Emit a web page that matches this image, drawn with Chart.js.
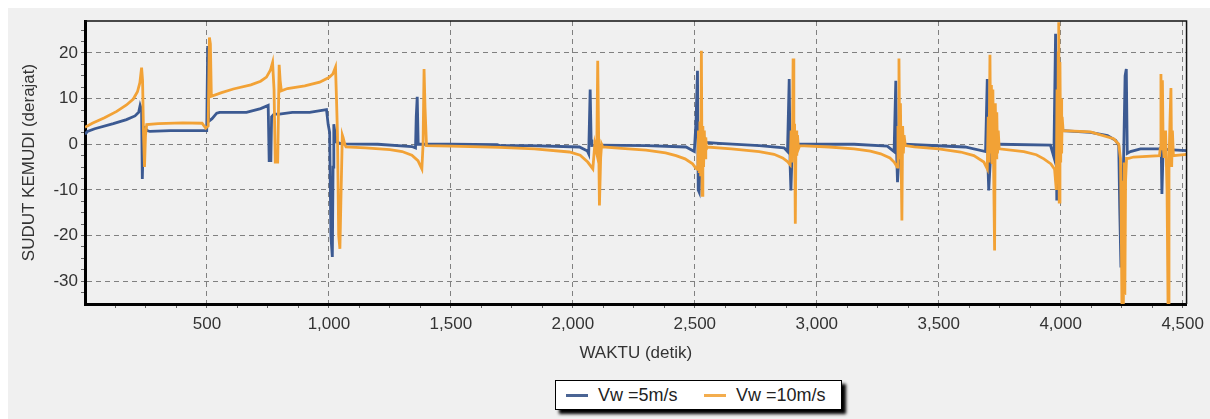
<!DOCTYPE html>
<html>
<head>
<meta charset="utf-8">
<title>Sudut kemudi</title>
<script src="https://cdn.jsdelivr.net/npm/chart.js@4.4.1/dist/chart.umd.min.js"></script>
<style>
  html, body { margin: 0; padding: 0; background: #fff; width: 1210px; height: 419px; overflow: hidden; }
  .painel { position: absolute; left: 8px; top: 8px; width: 1202px; height: 411px; background: #f0f0f0; }
  .area-grafico { position: absolute; left: 0; top: 0; width: 1210px; height: 370px; }
  #legenda {
    position: absolute; left: 555px; top: 380px; width: 285px; height: 28px;
    background: #fff; border: 1px solid #000; box-shadow: 4px 4px 3px #000;
    font: 18px "Liberation Sans", Arial, sans-serif; color: #222;
  }
  #legenda .linha { position: absolute; top: 13px; width: 22px; height: 3px; }
  #legenda .texto { position: absolute; top: 3px; line-height: 22px; white-space: nowrap; }
</style>
</head>
<body>
<div class="painel"></div>
<div class="area-grafico"><canvas id="grafico" width="1210" height="370"></canvas></div>
<div id="legenda">
  <span class="linha" style="left: 10px; background: #4a6494;"></span>
  <span class="texto" style="left: 42px;">Vw =5m/s</span>
  <span class="linha" style="left: 148px; background: #f3ad4e;"></span>
  <span class="texto" style="left: 180px;">Vw =10m/s</span>
</div>
<script>
// Vw = 5 m/s
const waktuVw5 = [0, 10, 40, 116, 170, 205, 220, 226, 232, 235, 240, 245, 255, 266, 350, 450, 499, 503, 507, 521, 540, 552, 662, 720, 751,
  755, 762, 765, 775, 797, 850, 921, 990, 997, 1003, 1008, 1014, 1017, 1020, 1030, 1052, 1200, 1340, 1355, 1358, 1362, 1366, 1372,
  1500, 1690, 1700, 1822, 2027, 2060, 2065, 2068, 2071, 2075, 2078, 2105, 2300, 2464, 2498, 2505, 2511, 2514, 2518, 2525, 2545,
  2600, 2764, 2866, 2880, 2887, 2891, 2894, 2900, 2921, 3153, 3289, 3317, 3324, 3328, 3331, 3340, 3357, 3608, 3692, 3699, 3702,
  3705, 3715, 3746, 3958, 3972, 3979, 3984, 3990, 4006, 4122, 4192, 4226, 4238, 4242, 4247, 4252, 4258, 4264, 4269, 4273, 4286,
  4327, 4409, 4412, 4415, 4420, 4440, 4516];
const sudutVw5 = [2.2, 2.8, 3.4, 4.5, 5.4, 6.2, 7.0, 8.5, 7.5, -7.6, 3.5, 3.7, 3.0, 2.8, 3.0, 3.0, 3.0, 21.5, 5.0, 5.6, 6.8, 7.0, 7.0, 7.8, 8.5,
  -3.6, -3.6, 6.0, 6.6, 6.6, 7.0, 7.0, 7.6, 4.3, 2.6, -20, -24.7, -5, 4.4, 0.5, 0.1, 0.0, -0.5, -0.8, 6, 10.4, 0, 0,
  0.0, -0.1, -0.3, -0.3, -0.6, -1.5, -2.1, 5, 12.0, 1, -0.3, -0.2, -0.3, -0.6, -1.6, 5, 16.1, -10, -10.5, 2, 0.4,
  0.2, -0.3, -0.8, -1.6, 14.3, -5, -10.1, 0, 0, 0, -0.4, -1.6, 13.9, -3, -8.3, 0, 0, -0.6, -1.6, 14.3, -5,
  -10.1, 0, 0, -0.2, -2.8, 24.2, -12.3, 3, 3.0, 2.6, 1.9, 0.8, -0.3, -14, -27, -15, -3, 15, 16.5, -2, -1.6,
  -1.0, -1.0, -0.5, -10.9, -1, -1.2, -1.4];

// Vw = 10 m/s
const waktuVw10 = [0, 30, 80, 130, 170, 198, 215, 225, 232, 236, 240, 244, 248, 253, 300, 400, 480, 495, 505, 510, 514, 518, 560,
  608, 680, 720, 744, 760, 769, 775, 780, 790, 796, 800, 805, 830, 901, 962, 1000, 1016, 1027, 1031, 1035, 1040, 1045, 1050, 1055,
  1058, 1065, 1070, 1150, 1250, 1300, 1340, 1365, 1381, 1386, 1390, 1394, 1400, 1500, 1700, 1842, 1986, 2030, 2061, 2082,
  2090, 2098, 2102, 2105, 2109, 2114, 2118, 2123, 2200, 2300, 2380, 2423, 2460, 2491, 2505,
  2512, 2515, 2518, 2521, 2524, 2527, 2530, 2533, 2536, 2539, 2542, 2545, 2548, 2552,
  2650, 2764, 2825, 2860, 2880, 2891, 2895, 2898, 2901, 2903, 2906, 2909, 2912, 2915, 2918, 2921, 2925, 2930,
  3050, 3153, 3220, 3262, 3300, 3317, 3330, 3333, 3335, 3337, 3340, 3343, 3346, 3349, 3352, 3355, 3358, 3363,
  3400, 3500, 3590, 3644, 3685, 3699, 3703, 3706, 3710, 3713, 3716, 3719, 3722, 3725, 3729, 3732, 3735, 3738, 3741, 3744, 3748,
  3849, 3900, 3931, 3960, 3975, 3982, 3985, 3988, 3990, 3992, 3994, 3997, 4000, 4002, 4004, 4006, 4010,
  4122, 4217, 4238, 4245, 4248, 4251, 4254, 4257, 4260, 4263, 4266, 4270, 4279, 4299,
  4405, 4408, 4411, 4414, 4417, 4420, 4424, 4430, 4436, 4440, 4444, 4448, 4452, 4455, 4458, 4462, 4516];
const sudutVw10 = [3.7, 4.6, 5.8, 7.2, 8.6, 9.9, 11.5, 13.5, 16.8, 14, 2, -5, 2, 4.3, 4.5, 4.7, 4.6, 3.5, 4, 23.4, 22, 10.5, 11.3,
  12.1, 13.0, 13.8, 14.7, 16.2, 17.9, 12, -3.9, -3.9, 17.4, 14, 11.7, 12.2, 12.8, 13.6, 14.6, 15.4, 16.9, 10, 2.3, -20, -22.9, -10, 2,
  1.5, 0, -0.6, -0.8, -1.2, -1.6, -2.4, -3.6, -5.4, 0, 16.5, 8, -0.3, -0.4, -0.7, -1.0, -1.7, -2.4, -3.9, -5.4,
  0, -2, 18.3, 5, -13.4, -3, 0, -0.6, -0.9, -1.3, -1.9, -2.5, -3.2, -4.3, -5.3,
  -5.5, 3, -6, 5, -7, 20.5, -11.2, 4, -5, 3, -3, 1.5, -1, -0.6,
  -1.0, -1.6, -2.2, -3.0, -3.8, -4.5, 3, -4, 5, 18.8, -2, 4.5, -17.4, 3, -2.5, 2, -1, -0.3,
  -0.6, -1.0, -1.5, -2.1, -3.0, -3.9, -5, 4, -3, 18.8, -1, 9, -4, -16.7, 4, -2, 2, -0.3,
  -0.6, -1.0, -1.7, -2.5, -3.9, -5.4, 6, -4, 19.6, -2, 13, -4, 12, -5, -23.3, 9, -3, 7, -2, 3, -1,
  -1.6, -2.3, -3.2, -4.3, -5.5, -10, 12, -6, 20, 26.7, -12.7, 18, -4, 10, -2, 6, 3.0,
  2.7, 1.2, 0, -3.1, -15, -35, -8, -35, -4, -33, -8, -3.1, -3.1, -2.8,
  -2.5, -1, 15.4, 2, 14, 0, -3, 3, -10, -34.8, -4, 5, 12.3, -5, 3, -2.5, -2.2];

// Eixos
const rotulosX = [500, 1000, 1500, 2000, 2500, 3000, 3500, 4000, 4500];
const rotulosY = [-30, -20, -10, 0, 10, 20];

const corAzul = '#3c5a92';
const corLaranja = '#f2a236';
const corGrade = '#808080';
const fonte = { family: '"Liberation Sans", Arial, sans-serif', size: 17 };

function pares(xs, ys) {
  return xs.map((x, i) => ({ x: x, y: ys[i] }));
}

function marcas(de, ate, passo) {
  const lista = [];
  for (let v = de; v <= ate + 1e-9; v += passo) lista.push({ value: Math.round(v * 100) / 100 });
  return lista;
}

// Bordas finas em cima e à direita
const bordaFina = {
  id: 'bordaFina',
  afterDatasetsDraw(chart) {
    const { ctx, chartArea: a } = chart;
    ctx.save();
    ctx.strokeStyle = '#111';
    ctx.lineWidth = 1.5;
    ctx.beginPath();
    ctx.moveTo(a.left, a.top);
    ctx.lineTo(a.right, a.top);
    ctx.lineTo(a.right, a.bottom);
    ctx.stroke();
    ctx.restore();
  }
};

new Chart(document.getElementById('grafico'), {
  type: 'line',
  data: {
    datasets: [
      { label: 'Vw =5m/s', data: pares(waktuVw5, sudutVw5), borderColor: corAzul, borderWidth: 2.8, pointRadius: 0, tension: 0, order: 1 },
      { label: 'Vw =10m/s', data: pares(waktuVw10, sudutVw10), borderColor: corLaranja, borderWidth: 2.8, pointRadius: 0, tension: 0, order: 0 }
    ]
  },
  options: {
    responsive: false,
    animation: false,
    devicePixelRatio: 1,
    layout: { padding: { left: 8, top: 21, right: 22, bottom: 0 } },
    plugins: { legend: { display: false }, tooltip: { enabled: false } },
    scales: {
      x: {
        type: 'linear',
        min: 0,
        max: 4516,
        afterBuildTicks: (s) => { s.ticks = marcas(125, 4500, 125); },
        afterFit: (s) => { s.height = 66; },
        ticks: {
          autoSkip: false,
          maxRotation: 0,
          padding: 6,
          color: '#333',
          font: fonte,
          callback: (v) => rotulosX.includes(v) ? v.toLocaleString('en-US') : ''
        },
        grid: {
          color: (c) => rotulosX.includes(c.tick && c.tick.value) ? corGrade : 'rgba(0,0,0,0)',
          tickColor: '#666',
          tickLength: 4,
          lineWidth: 1
        },
        border: { display: true, color: '#000', width: 3, dash: [5, 4] },
        title: { display: true, text: 'WAKTU (detik)', color: '#333', font: fonte, padding: { top: 0, bottom: 6 } }
      },
      y: {
        min: -35,
        max: 27,
        afterBuildTicks: (s) => { s.ticks = marcas(-32.5, 25, 2.5); },
        afterFit: (s) => { s.width = 77; },
        ticks: {
          autoSkip: false,
          padding: 3,
          color: '#333',
          font: fonte,
          callback: (v) => rotulosY.includes(v) ? String(v) : ''
        },
        grid: {
          color: (c) => rotulosY.includes(c.tick && c.tick.value) ? corGrade : 'rgba(0,0,0,0)',
          tickColor: '#666',
          tickLength: 4,
          lineWidth: 1
        },
        border: { display: true, color: '#000', width: 3, dash: [5, 4] },
        title: { display: true, text: 'SUDUT KEMUDI (derajat)', color: '#333', font: fonte, padding: { top: 11, bottom: 0 } }
      }
    }
  },
  plugins: [bordaFina]
});
</script>
</body>
</html>
